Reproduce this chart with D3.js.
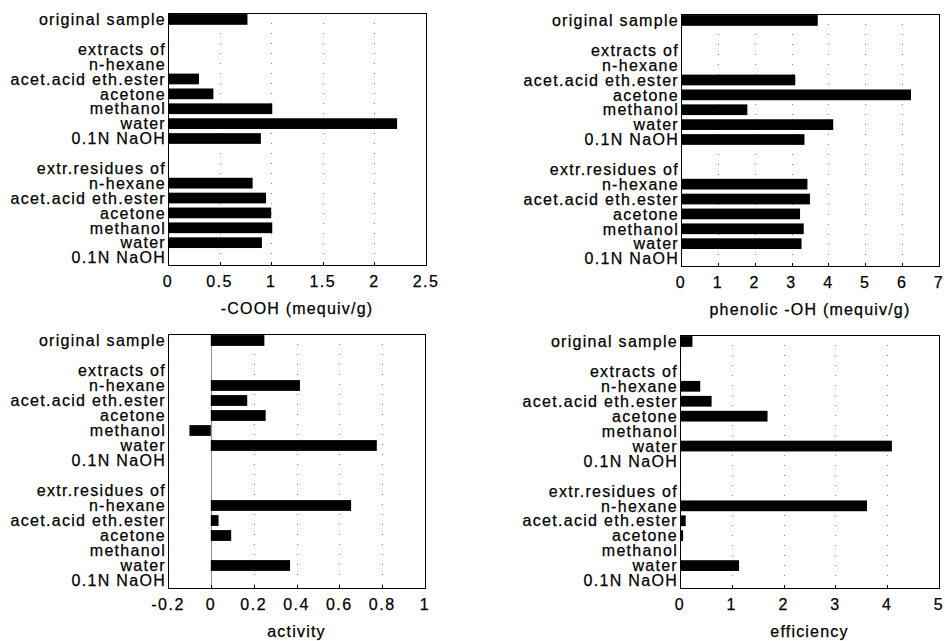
<!DOCTYPE html>
<html>
<head>
<meta charset="utf-8">
<script src="https://cdn.jsdelivr.net/npm/d3@7/dist/d3.min.js"></script>
<style>
  body { margin: 0; background: #fff; }
  svg text { font-family: "Liberation Sans", Arial, sans-serif; fill: #000; stroke: #000; stroke-width: 0.25px; }
</style>
</head>
<body>
<div id="chart"></div>
<script>
const rowLabels = ["original sample", "", "extracts of", "n-hexane", "acet.acid eth.ester", "acetone", "methanol", "water", "0.1N NaOH", "", "extr.residues of", "n-hexane", "acet.acid eth.ester", "acetone", "methanol", "water", "0.1N NaOH"];

// null = no bar
const cooh = [0.77, null, null, null, 0.30, 0.44, 1.01, 2.22, 0.90, null, null, 0.82, 0.95, 1.00, 1.01, 0.91, null];
const phenolic = [3.71, null, null, null, 3.10, 6.24, 1.80, 4.13, 3.35, null, null, 3.43, 3.50, 3.23, 3.33, 3.27, null];
const activity = [0.25, null, null, 0.416, 0.17, 0.256, -0.10, 0.775, null, null, null, 0.655, 0.036, 0.095, null, 0.37, null];
const efficiency = [0.24, null, null, 0.39, 0.61, 1.69, null, 4.09, null, null, null, 3.61, 0.11, 0.06, null, 1.14, null];

const coohTicks = [0, 0.5, 1, 1.5, 2, 2.5];
const phenolicTicks = [0, 1, 2, 3, 4, 5, 6, 7];
const activityTicks = [-0.2, 0, 0.2, 0.4, 0.6, 0.8, 1];
const efficiencyTicks = [0, 1, 2, 3, 4, 5];

const W = 945, H = 641;
const svg = d3.select("#chart").append("svg").attr("width", W).attr("height", H);

function panel(box, values, ticks, title) {
  const g = svg.append("g");
  const x = d3.scaleLinear().domain([ticks[0], ticks[ticks.length - 1]]).range([box.x0, box.x1]);
  const y = d3.scaleBand().domain(d3.range(rowLabels.length)).range([box.y0 - 1, box.y1]).paddingInner(0.28).paddingOuter(0.14);
  const fmt = (d) => d3.format("~g")(d).replace("−", "-");

  // dotted grid
  g.selectAll("line.grid").data(ticks.slice(1, -1).filter((t) => t !== 0)).join("line")
    .attr("x1", (d) => Math.round(x(d)) + 0.5).attr("x2", (d) => Math.round(x(d)) + 0.5)
    .attr("y1", box.y0).attr("y2", box.y1)
    .attr("stroke", "#888").attr("stroke-width", 1).attr("stroke-dasharray", "1,9");

  // zero line when domain crosses zero
  if (ticks[0] < 0) {
    g.append("line").attr("x1", Math.round(x(0)) + 0.5).attr("x2", Math.round(x(0)) + 0.5)
      .attr("y1", box.y0).attr("y2", box.y1).attr("stroke", "#999").attr("stroke-width", 1.2);
  }

  // bars
  const rows = values.map((v, i) => ({ i, v })).filter((d) => d.v !== null);
  g.selectAll("rect.bar").data(rows).join("rect")
    .attr("x", (d) => x(Math.min(0, d.v)))
    .attr("width", (d) => Math.abs(x(d.v) - x(0)))
    .attr("y", (d) => y(d.i))
    .attr("height", y.bandwidth())
    .attr("fill", "#000");

  // frame
  g.append("rect").attr("x", box.x0 + 0.5).attr("y", box.y0 + 0.5)
    .attr("width", box.x1 - box.x0).attr("height", box.y1 - box.y0)
    .attr("fill", "none").attr("stroke", "#000").attr("stroke-width", 1);

  // small inward ticks
  g.selectAll("line.tick").data(ticks.slice(1, -1)).join("line")
    .attr("x1", (d) => Math.round(x(d)) + 0.5).attr("x2", (d) => Math.round(x(d)) + 0.5)
    .attr("y1", box.y1).attr("y2", box.y1 - 3).attr("stroke", "#000");

  // row labels
  g.selectAll("text.row").data(rowLabels).join("text")
    .attr("x", box.x0 - 2)
    .attr("y", (d, i) => y(i) + y.bandwidth() / 2 + 1.5)
    .attr("text-anchor", "end").attr("dominant-baseline", "middle")
    .style("font-size", "16px").style("letter-spacing", "1.3px")
    .text((d) => d);

  // tick labels
  g.selectAll("text.tl").data(ticks).join("text")
    .attr("x", (d) => x(d)).attr("y", box.y1 + 18)
    .attr("text-anchor", "middle").attr("dominant-baseline", "middle")
    .style("font-size", "16px").style("letter-spacing", "1.5px")
    .text(fmt);

  g.append("text").attr("x", (box.x0 + box.x1) / 2).attr("y", box.y1 + 45)
    .attr("text-anchor", "middle").attr("dominant-baseline", "middle")
    .style("font-size", "16px").style("letter-spacing", "1.2px")
    .text(title);
}

panel({ x0: 168, x1: 426, y0: 13, y1: 265 }, cooh, coohTicks, "-COOH (mequiv/g)");
panel({ x0: 681, x1: 939, y0: 14, y1: 266 }, phenolic, phenolicTicks, "phenolic -OH (mequiv/g)");
panel({ x0: 168, x1: 425, y0: 334, y1: 588 }, activity, activityTicks, "activity");
panel({ x0: 680, x1: 939, y0: 335, y1: 588 }, efficiency, efficiencyTicks, "efficiency");
</script>
</body>
</html>
